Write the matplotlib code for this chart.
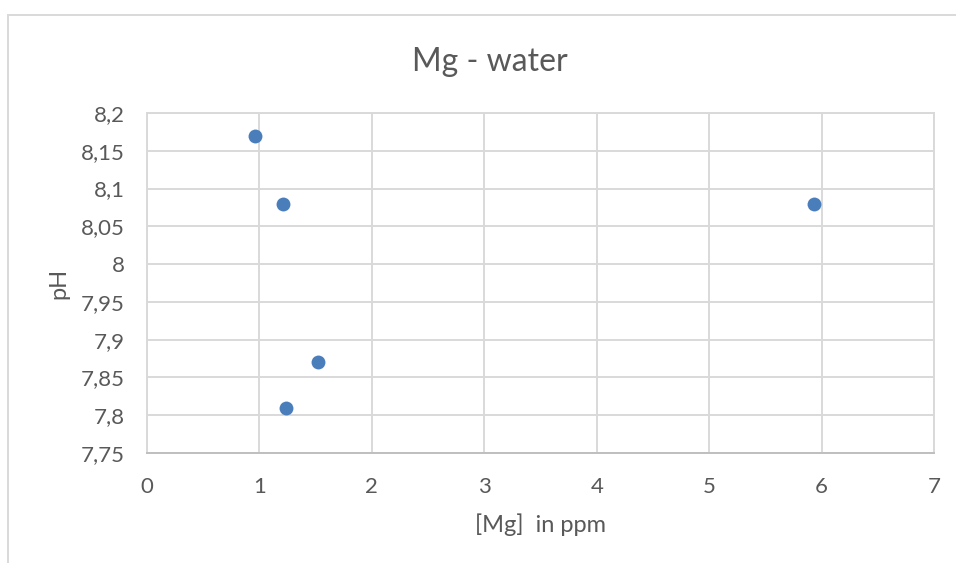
import matplotlib
matplotlib.use("Agg")
import matplotlib.pyplot as plt
from matplotlib.ticker import FuncFormatter, MultipleLocator
from matplotlib.patches import Rectangle

# --- data ---
mg_ppm = [0.96, 1.21, 5.93, 1.52, 1.24]
ph = [8.17, 8.08, 8.08, 7.87, 7.81]

grid_color = "#d9d9d9"
text_color = "#595959"
point_color = "#4a7ebb"

plt.rcParams["font.family"] = ["Lato", "DejaVu Sans"]

fig = plt.figure(figsize=(9.56, 5.63), dpi=100)
ax = fig.add_axes([0.1538, 0.1954, 0.8232, 0.6039])

ax.scatter(mg_ppm, ph, s=100, color=point_color, zorder=3, linewidths=0)

ax.set_xlim(0, 7)
ax.set_ylim(7.75, 8.2)
ax.xaxis.set_major_locator(MultipleLocator(1))
ax.yaxis.set_major_locator(MultipleLocator(0.05))

comma = FuncFormatter(lambda v, pos: ("%g" % round(v, 2)).replace(".", ","))
ax.xaxis.set_major_formatter(comma)
ax.yaxis.set_major_formatter(comma)

ax.grid(True, color=grid_color, linewidth=1.4)
ax.set_axisbelow(True)
for side in ["top", "right", "left"]:
    ax.spines[side].set_color(grid_color)
    ax.spines[side].set_linewidth(1.4)
ax.spines["bottom"].set_color("#bfbfbf")
ax.spines["bottom"].set_linewidth(1.4)

ax.tick_params(axis="both", length=0, labelsize=16, labelcolor=text_color)
ax.tick_params(axis="x", pad=17)
ax.tick_params(axis="y", pad=16)

ax.set_xlabel("[Mg]  in ppm", fontsize=17, color=text_color, labelpad=12)
ax.set_ylabel("pH", fontsize=17, color=text_color, labelpad=8)
fig.text(0.512, 0.89, "Mg - water", fontsize=23, color=text_color,
         ha="center", va="center")

# chart frame
frame = Rectangle((0.0084, -0.1), 1.2, 1.0734, transform=fig.transFigure,
                  fill=False, edgecolor=grid_color, linewidth=1.4)
fig.patches.append(frame)

plt.savefig("out.png", dpi=100)
plt.close()
